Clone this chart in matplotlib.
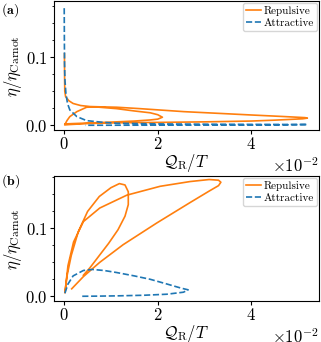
import matplotlib
matplotlib.use("Agg")
import matplotlib.pyplot as plt
from matplotlib.ticker import MultipleLocator
import numpy as np

plt.rcParams['font.family'] = 'serif'
plt.rcParams['font.serif'] = ['cmr10']
plt.rcParams['mathtext.fontset'] = 'cm'
plt.rcParams['axes.formatter.use_mathtext'] = True
plt.rcParams['font.size'] = 12
plt.rcParams['xtick.major.size'] = 3
plt.rcParams['ytick.major.size'] = 3
plt.rcParams['ytick.minor.size'] = 1.8
plt.rcParams['xtick.major.pad'] = 1.5
plt.rcParams['ytick.major.pad'] = 1.5

# values, x in units of 1e-2
# panel (a)
rep_a_x = [0.005, 0.008, 0.012, 0.03, 0.1, 0.19, 0.35, 0.55, 0.8, 1.12, 1.6, 2.56, 3.3, 4.0, 4.7, 5.15, 5.2,
           5.1, 4.5, 4.0, 3.0, 2.0, 1.12, 0.5, 0.1, 0.01,
           0.06, 0.12, 0.27, 0.48, 0.7, 1.12, 1.5, 1.84, 2.0, 2.1, 2.0, 1.84, 1.5, 1.12, 0.6, 0.2, 0.02]
rep_a_y = [0.105, 0.07, 0.05, 0.042, 0.036, 0.032, 0.029, 0.0275, 0.027, 0.0265, 0.0245, 0.02, 0.0175, 0.0151, 0.0128, 0.0112, 0.0105,
           0.0095, 0.0075, 0.0062, 0.005, 0.0042, 0.0036, 0.0025, 0.001, 0.0005,
           0.007, 0.0127, 0.02, 0.0265, 0.0268, 0.0244, 0.021, 0.0183, 0.0155, 0.0118, 0.009, 0.0078, 0.0062, 0.005, 0.0035, 0.0025, 0.002]
att_a_x = [0.0, 0.003, 0.007, 0.015, 0.036, 0.07, 0.12, 0.27, 0.48, 0.8, 1.12, 2.0, 3.0, 4.0, 5.2,
           4.5, 3.0, 1.5, 0.45]
att_a_y = [0.172, 0.13, 0.09, 0.067, 0.047, 0.032, 0.0225, 0.0127, 0.0068, 0.0045, 0.003, 0.002, 0.0016, 0.0013, 0.0011,
           0.0004, 0.0002, 0.0001, 0.0]

# panel (b)
rep_b_x = [0.16, 0.41, 0.76, 1.26, 1.98, 2.69, 3.1, 3.3, 3.35, 3.3, 3.1, 2.69, 2.05, 1.34, 0.76, 0.41, 0.2, 0.08, 0.015,
           0.06, 0.15, 0.3, 0.5, 0.75, 1.0, 1.18, 1.3, 1.37, 1.37, 1.3, 1.15, 0.95, 0.75, 0.55, 0.41]
rep_b_y = [0.011, 0.029, 0.05, 0.076, 0.108, 0.138, 0.155, 0.163, 0.168, 0.171, 0.172, 0.169, 0.162, 0.149, 0.13, 0.11, 0.08, 0.045, 0.005,
           0.03, 0.06, 0.095, 0.125, 0.147, 0.16, 0.166, 0.164, 0.154, 0.135, 0.118, 0.098, 0.078, 0.06, 0.042, 0.031]
att_b_x = [0.015, 0.08, 0.19, 0.41, 0.6, 0.85, 1.12, 1.5, 1.84, 2.2, 2.5, 2.65, 2.55, 2.19, 1.7, 1.12, 0.7, 0.34]
att_b_y = [0.0045, 0.018, 0.03, 0.038, 0.0395, 0.038, 0.035, 0.03, 0.025, 0.018, 0.012, 0.0095, 0.006, 0.003, 0.0015, 0.0006, 0.0002, 0.0]

orange = '#ff7f0e'
blue = '#1f77b4'

fig = plt.figure(figsize=(3.21, 3.42), dpi=100)
ax_a = fig.add_axes([0.168, 0.620, 0.826, 0.376])
ax_b = fig.add_axes([0.168, 0.120, 0.826, 0.365])

panels = [(ax_a, rep_a_x, rep_a_y, att_a_x, att_a_y, 0.182, '(a)', 0.997),
          (ax_b, rep_b_x, rep_b_y, att_b_x, att_b_y, 0.177, '(b)', 0.497)]

for ax, rx, ry, bx, by, ytop, tag, ty in panels:
    ax.plot(np.array(rx) * 1e-2, ry, color=orange, lw=1.2, label='Repulsive')
    ax.plot(np.array(bx) * 1e-2, by, color=blue, lw=1.2, ls='--', label='Attractive')
    ax.set_xlim(-0.22e-2, 5.45e-2)
    ax.set_ylim(-0.0069, ytop)
    ax.set_xticks([0, 0.02, 0.04])
    ax.set_yticks([0.0, 0.1])
    ax.yaxis.set_minor_locator(MultipleLocator(0.025))
    ax.ticklabel_format(axis='x', style='sci', scilimits=(0, 0))
    ax.set_xlabel(r'$\mathcal{Q}_\mathrm{R}/T$', fontsize=12, labelpad=-0.5)
    ax.set_ylabel(r'$\eta/\eta_\mathrm{Carnot}$', fontsize=12, labelpad=1)
    ax.legend(loc='upper right', fontsize=8, borderaxespad=0.15, handlelength=1.35,
              handletextpad=0.25, labelspacing=0.15, borderpad=0.3)
    fig.text(0.003, ty, r'$\mathbf{' + tag + '}$', fontsize=10, va='top', ha='left')

fig.savefig('out.png', dpi=100)
